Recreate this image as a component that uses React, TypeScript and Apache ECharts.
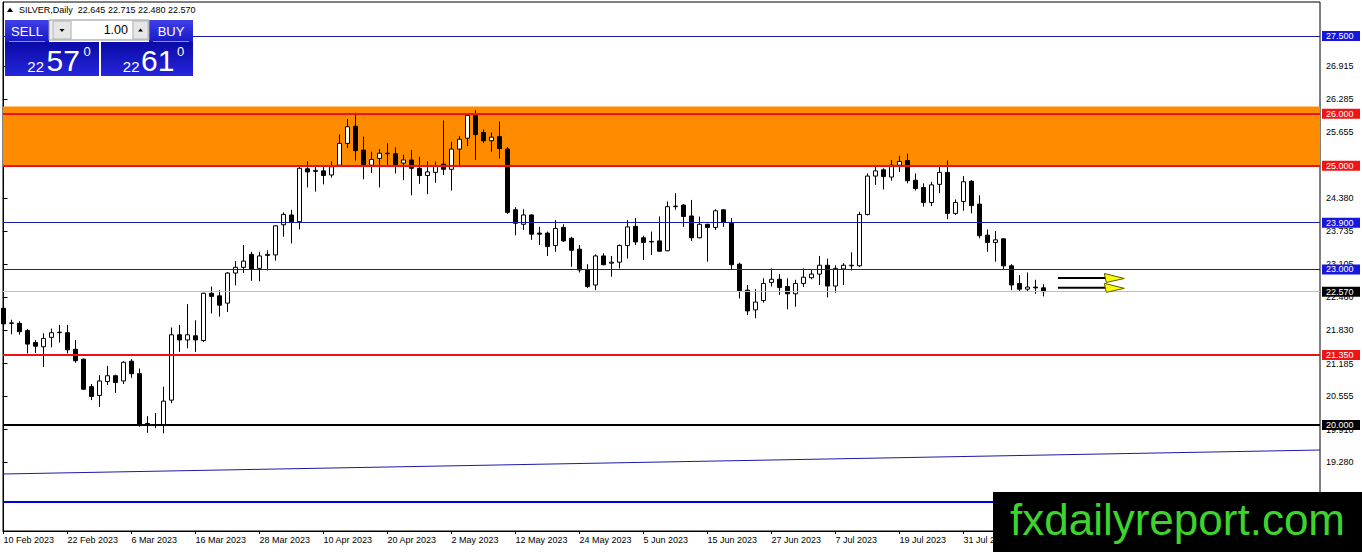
import React, { useEffect, useRef } from "react";
import * as echarts from "echarts";

// ---------- data ----------
const SYMBOL = "SILVER";
const TIMEFRAME = "Daily";
const YEAR = "2023";
const FEB_DAYS = [10, 13, 14, 15, 16, 17, 20, 21, 22, 23, 24, 27, 28];
const MAR_DAYS = [1, 2, 3, 6, 7, 8, 9, 10, 13, 14, 15, 16, 17, 20, 21, 22, 23, 24, 27, 28, 29, 30, 31];
const APR_DAYS = [3, 4, 5, 6, 10, 11, 12, 13, 14, 17, 18, 19, 20, 21, 24, 25, 26, 27, 28];
const MAY_DAYS = [1, 2, 3, 4, 5, 8, 9, 10, 11, 12, 15, 16, 17, 18, 19, 22, 23, 24, 25, 26, 29, 30, 31];
const JUN_DAYS = [1, 2, 5, 6, 7, 8, 9, 12, 13, 14, 15, 16, 19, 20, 21, 22, 23, 26, 27, 28, 29, 30];
const JUL_DAYS = [3, 4, 5, 6, 7, 10, 11, 12, 13, 14, 17, 18, 19, 20, 21, 24, 25, 26, 27, 28, 31];
const AUG_DAYS = [1, 2, 3, 4, 7, 8, 9, 10, 11, 14];

const OPEN = [
  22.25, 21.96, 21.96, 21.82, 21.59, 21.51, 21.69, 21.78, 21.78, 21.46,
  21.27, 20.74, 20.57, 20.84, 20.95, 20.85, 21.23, 20.99, 20.03, 20.0,
  20.0, 20.48, 21.74, 21.64, 21.72, 21.63, 22.54, 22.49, 22.35, 22.93,
  23.04, 23.29, 23.02, 23.27, 23.28, 23.86, 24.05, 23.92, 24.94, 24.89,
  24.9, 24.82, 25.01, 25.43, 25.76, 25.3, 25.01, 25.14, 25.23, 25.23,
  25.05, 25.11, 24.95, 24.81, 24.87, 25.03, 24.93, 25.32, 25.53, 25.97,
  25.64, 25.48, 25.56, 25.32, 24.15, 23.87, 24.05, 23.7, 23.7, 23.46,
  23.81, 23.6, 23.39, 22.99, 22.7, 23.26, 23.12, 23.14, 23.46, 23.83,
  23.61, 23.53, 23.55, 23.36, 24.21, 24.24, 24.03, 23.61, 23.87, 23.81,
  24.15, 23.89, 23.1, 22.6, 22.22, 22.4, 22.75, 22.81, 22.67, 22.53,
  22.73, 22.84, 22.91, 23.08, 22.68, 23.01, 23.07, 23.07, 24.06, 24.8,
  24.92, 24.78, 25.01, 25.1, 24.72, 24.58, 24.29, 24.64, 24.87, 24.08,
  24.31, 24.7, 24.26, 23.66, 23.52, 23.59, 23.07, 22.73, 22.62, 22.66,
  22.645,
];
const HIGH = [
  22.28, 22.03, 22.0, 21.85, 21.64, 21.77, 21.86, 21.93, 21.93, 21.64,
  21.28, 20.79, 20.96, 21.14, 20.97, 21.23, 21.27, 21.09, 20.17, 20.23,
  20.74, 21.88, 21.93, 22.33, 22.02, 22.55, 22.67, 22.6, 22.95, 23.16,
  23.47, 23.34, 23.34, 23.37, 23.85, 24.1, 24.15, 24.97, 25.08, 24.97,
  24.98, 25.08, 25.6, 25.9, 26.02, 25.56, 25.27, 25.32, 25.43, 25.35,
  25.21, 25.3, 25.17, 25.08, 25.08, 25.87, 25.46, 25.57, 26.0, 26.07,
  25.7, 25.64, 25.85, 25.36, 24.2, 24.16, 24.06, 23.82, 23.73, 23.95,
  23.87, 23.63, 23.47, 23.1, 23.29, 23.31, 23.26, 23.48, 23.95, 23.99,
  23.65, 23.73, 24.02, 24.31, 24.47, 24.26, 24.34, 24.02, 23.88, 24.16,
  24.16, 23.99, 23.13, 22.7, 22.62, 22.83, 23.02, 22.91, 22.83, 22.8,
  23.02, 22.99, 23.26, 23.21, 23.08, 23.12, 23.33, 24.11, 24.85, 24.98,
  24.95, 25.11, 25.19, 25.23, 24.85, 24.66, 24.69, 24.97, 25.1, 24.35,
  24.8, 24.72, 24.43, 23.77, 23.74, 23.6, 23.1, 22.89, 22.94, 22.8,
  22.715,
];
const LOW = [
  21.76, 21.75, 21.74, 21.38, 21.39, 21.12, 21.5, 21.59, 21.38, 21.2,
  20.68, 20.48, 20.35, 20.77, 20.62, 20.79, 20.91, 19.97, 19.85, 19.94,
  19.84, 20.42, 21.41, 21.48, 21.41, 21.6, 22.15, 22.09, 22.18, 22.69,
  22.93, 22.78, 22.77, 22.98, 23.17, 23.63, 23.5, 23.77, 24.58, 24.5,
  24.64, 24.77, 24.99, 25.34, 25.1, 24.74, 24.86, 24.58, 25.01, 24.85,
  24.72, 24.43, 24.65, 24.45, 24.67, 24.82, 24.52, 25.01, 25.38, 25.11,
  25.44, 25.27, 25.14, 24.07, 23.66, 23.76, 23.57, 23.47, 23.26, 23.34,
  23.53, 23.05, 22.94, 22.64, 22.6, 23.08, 22.86, 23.02, 23.21, 23.47,
  23.18, 23.28, 23.34, 23.35, 24.15, 23.82, 23.55, 23.6, 23.15, 23.76,
  23.82, 23.0, 22.44, 22.12, 22.06, 22.36, 22.67, 22.51, 22.23, 22.28,
  22.66, 22.81, 22.7, 22.46, 22.55, 22.7, 22.98, 23.05, 24.04, 24.63,
  24.54, 24.71, 24.88, 24.66, 24.52, 24.21, 24.22, 24.47, 23.97, 24.05,
  24.13, 24.08, 23.6, 23.34, 23.15, 23.0, 22.6, 22.57, 22.57, 22.53,
  22.48,
];
const CLOSE = [
  21.95, 21.97, 21.8, 21.56, 21.52, 21.67, 21.78, 21.79, 21.45, 21.24,
  20.69, 20.55, 20.85, 20.95, 20.82, 21.21, 20.99, 20.0, 19.99, 20.01,
  20.46, 21.74, 21.64, 21.74, 21.64, 22.54, 22.48, 22.31, 22.93, 23.04,
  23.16, 23.01, 23.26, 23.29, 23.84, 24.06, 23.92, 24.95, 24.88, 24.91,
  24.81, 24.98, 25.43, 25.75, 25.29, 25.01, 25.12, 25.24, 25.24, 25.01,
  25.11, 24.95, 24.81, 24.88, 24.99, 24.93, 25.32, 25.51, 25.97, 25.6,
  25.48, 25.55, 25.33, 24.1, 23.89, 24.05, 23.68, 23.68, 23.44, 23.79,
  23.55, 23.37, 22.99, 22.67, 23.26, 23.09, 23.14, 23.46, 23.82, 23.53,
  23.52, 23.54, 23.35, 24.21, 24.22, 24.02, 23.61, 23.87, 23.81, 24.13,
  23.91, 23.09, 22.59, 22.2, 22.37, 22.73, 22.81, 22.65, 22.53, 22.73,
  22.85, 22.91, 23.08, 22.68, 23.02, 23.08, 23.08, 24.06, 24.8, 24.9,
  24.79, 25.01, 25.08, 24.71, 24.56, 24.29, 24.63, 24.87, 24.08, 24.29,
  24.69, 24.23, 23.65, 23.52, 23.57, 23.07, 22.7, 22.62, 22.66, 22.645,
  22.57,
];

const X_TICKS = [0, 8, 16, 24, 32, 40, 48, 56, 64, 72, 80, 88, 96, 104, 112, 120];
const X_RANGE = [-0.0625, 164.5625];
const Y_RANGE = [17.957, 28.1555];
const Y_TICKS = [26.915, 26.285, 25.655, 24.38, 23.735, 23.105, 22.46, 21.83, 21.185, 20.555, 19.91, 19.28];

const BLUE_LEVELS = [27.5, 23.9, 23.0];
const RED_LEVELS = [26.0, 25.0, 21.35];
const BLACK_LEVELS = [20.0];
const BID = 22.57;
const ASK = 22.61;
const LOT = "1.00";
const ZONE = [25.0, 26.14];
const TREND_START = [-0.0625, 19.056];
const TREND_END = [164.5625, 19.518];
const LOW_LINE = 18.516;
const ARROW_FROM_X = 131.8;
const ARROW_TO_X = 140.1;
const ARROW_PRICES = [22.835, 22.645];
const WATERMARK = "fxdailyreport.com";

// ---------- styles ----------
const FONT = "'Liberation Sans', Arial, sans-serif";
const STYLE: Record<string, { line: string; width: number; box: string }> = {
  blue: { line: "#1a1aa8", width: 1, box: "#1616dc" },
  red: { line: "#ee1111", width: 2, box: "#f01414" },
  black: { line: "#000000", width: 2, box: "#000000" },
  bid: { line: "#c0c0c0", width: 1, box: "#000000" },
};

const MONTHS: [string, number[]][] = [
  ["Feb", FEB_DAYS],
  ["Mar", MAR_DAYS],
  ["Apr", APR_DAYS],
  ["May", MAY_DAYS],
  ["Jun", JUN_DAYS],
  ["Jul", JUL_DAYS],
  ["Aug", AUG_DAYS],
];
const DATES: string[] = [];
MONTHS.forEach(([m, days]) => days.forEach((d) => DATES.push(`${d} ${m} ${YEAR}`)));

function txt(x: number, y: number, text: string, size: number, fill: string, align = "left", vAlign = "middle", weight = "normal") {
  return {
    type: "text",
    x,
    y,
    z: 120,
    silent: true,
    style: {
      text,
      fill,
      font: `${weight} ${size}px ${FONT}`,
      textAlign: align,
      align,
      textVerticalAlign: vAlign,
      verticalAlign: vAlign,
    },
  };
}

export default function App() {
  const ref = useRef<HTMLDivElement>(null);

  useEffect(() => {
    const el = ref.current!;
    const chart = echarts.init(el, null, { renderer: "svg" });

    const candles = OPEN.map((o, i) => [i, o, CLOSE[i], LOW[i], HIGH[i]]);
    const levels: [number, string][] = [
      ...BLUE_LEVELS.map((v) => [v, "blue"] as [number, string]),
      ...RED_LEVELS.map((v) => [v, "red"] as [number, string]),
      ...BLACK_LEVELS.map((v) => [v, "black"] as [number, string]),
      [BID, "bid"],
    ];

    chart.setOption({
      animation: false,
      backgroundColor: "#ffffff",
      grid: {
        left: 3,
        top: 2,
        width: 1317,
        height: 529,
        show: true,
        borderColor: "#000",
        borderWidth: 1,
        backgroundColor: "#ffffff",
      },
      xAxis: {
        type: "value",
        min: X_RANGE[0],
        max: X_RANGE[1],
        splitLine: { show: false },
        axisLine: { show: true, lineStyle: { color: "#000", width: 1 } },
        axisTick: { show: true, customValues: X_TICKS, length: 3, lineStyle: { color: "#000" } },
        axisLabel: {
          customValues: X_TICKS,
          formatter: (v: number) => DATES[Math.round(v)] ?? "",
          align: "left",
          margin: 4,
          color: "#000",
          fontFamily: FONT,
          fontSize: 9,
        },
      },
      yAxis: {
        type: "value",
        position: "right",
        min: Y_RANGE[0],
        max: Y_RANGE[1],
        splitLine: { show: false },
        axisLine: { show: true, lineStyle: { color: "#000", width: 1 } },
        axisTick: { show: true, customValues: Y_TICKS, length: 4, lineStyle: { color: "#000" } },
        axisLabel: {
          customValues: Y_TICKS,
          formatter: (v: number) => v.toFixed(3),
          margin: 6,
          color: "#000",
          fontFamily: FONT,
          fontSize: 9,
        },
      },
      series: [
        {
          type: "candlestick",
          data: candles,
          barWidth: 5,
          clip: true,
          silent: true,
          itemStyle: {
            color: "#ffffff",
            color0: "#000000",
            borderColor: "#000000",
            borderColor0: "#000000",
            borderWidth: 1,
          },
          markArea: {
            silent: true,
            label: { show: false },
            itemStyle: { color: "#ff8c00", opacity: 1, borderWidth: 0 },
            data: [[{ yAxis: ZONE[0] }, { yAxis: ZONE[1] }]],
          },
          markLine: {
            silent: true,
            symbol: ["none", "none"],
            label: { show: false },
            lineStyle: { type: "solid" },
            data: [
              ...levels.map(([v, k]) => ({
                yAxis: v,
                lineStyle: { color: STYLE[k].line, width: STYLE[k].width, type: "solid" },
              })),
              { yAxis: LOW_LINE, lineStyle: { color: "#0000dd", width: 2, type: "solid" } },
              [
                { coord: TREND_START, lineStyle: { color: "#1a1aa8", width: 1, type: "solid" } },
                { coord: TREND_END },
              ],
            ],
          },
        },
      ],
    });

    const px = (x: number, y: number) => chart.convertToPixel({ gridIndex: 0 }, [x, y]) as number[];
    const right = px(X_RANGE[1], 0)[0];
    const g: any[] = [];

    // price level label boxes on the axis
    levels.forEach(([v, k]) => {
      const y = px(0, v)[1];
      g.push({
        type: "rect",
        z: 110,
        silent: true,
        shape: { x: right + 2, y: y - 5, width: 38, height: 10 },
        style: { fill: STYLE[k].box },
      });
      g.push(txt(right + 6, y, v.toFixed(3), 9, "#ffffff"));
    });

    // arrows
    ARROW_PRICES.forEach((p) => {
      const [x0, y] = px(ARROW_FROM_X, p);
      const [x1] = px(ARROW_TO_X, p);
      g.push({
        type: "line",
        z: 110,
        silent: true,
        shape: { x1: x0, y1: y, x2: x1 - 18, y2: y },
        style: { stroke: "#000", lineWidth: 2 },
      });
      g.push({
        type: "polygon",
        z: 111,
        silent: true,
        shape: { points: [[x1 - 20, y - 4.5], [x1, y + 0.5], [x1 - 18, y + 4.5]] },
        style: { fill: "#ffff00", stroke: "#5a5a00", lineWidth: 1 },
      });
    });

    // title
    g.push({
      type: "polygon",
      z: 120,
      silent: true,
      shape: { points: [[7, 12], [10, 7.5], [13, 12]] },
      style: { fill: "#000" },
    });
    const last = OPEN.length - 1;
    g.push(
      txt(
        19,
        10,
        `${SYMBOL},${TIMEFRAME}  ${OPEN[last].toFixed(3)} ${HIGH[last].toFixed(3)} ${LOW[last].toFixed(3)} ${CLOSE[last].toFixed(3)}`,
        9,
        "#000"
      )
    );

    // trade panel
    const btnGrad = () =>
      new echarts.graphic.LinearGradient(0, 0, 0, 1, [
        { offset: 0, color: "#4040ea" },
        { offset: 1, color: "#1818c4" },
      ]);
    const boxGrad = () =>
      new echarts.graphic.LinearGradient(0, 0, 0, 1, [
        { offset: 0, color: "#0a0aa6" },
        { offset: 1, color: "#2626dc" },
      ]);
    g.push({ type: "rect", z: 115, silent: true, shape: { x: 5, y: 20, width: 44, height: 22 }, style: { fill: btnGrad() } });
    g.push({ type: "rect", z: 115, silent: true, shape: { x: 149, y: 20, width: 44, height: 22 }, style: { fill: btnGrad() } });
    g.push({ type: "rect", z: 115, silent: true, shape: { x: 49, y: 20, width: 100, height: 20 }, style: { fill: "#f0f0f0", stroke: "#9a9a9a", lineWidth: 1 } });
    g.push({ type: "rect", z: 116, silent: true, shape: { x: 53, y: 21, width: 18, height: 18 }, style: { fill: "#e6e6e6", stroke: "#b4b4b4", lineWidth: 1 } });
    g.push({ type: "rect", z: 116, silent: true, shape: { x: 72, y: 21, width: 60, height: 18 }, style: { fill: "#ffffff" } });
    g.push({ type: "rect", z: 116, silent: true, shape: { x: 133, y: 21, width: 15, height: 18 }, style: { fill: "#e6e6e6", stroke: "#b4b4b4", lineWidth: 1 } });
    g.push({ type: "polygon", z: 117, silent: true, shape: { points: [[59.5, 29], [64.5, 29], [62, 32]] }, style: { fill: "#000" } });
    g.push({ type: "polygon", z: 117, silent: true, shape: { points: [[138, 31.5], [143, 31.5], [140.5, 28.5]] }, style: { fill: "#000" } });
    g.push(txt(27, 31, "SELL", 13, "#ffffff", "center"));
    g.push(txt(171, 31, "BUY", 13, "#ffffff", "center"));
    g.push(txt(128, 30, LOT, 12.5, "#000", "right"));
    g.push({ type: "rect", z: 115, silent: true, shape: { x: 5, y: 42, width: 94, height: 34 }, style: { fill: boxGrad() } });
    g.push({ type: "rect", z: 115, silent: true, shape: { x: 101, y: 42, width: 92, height: 34 }, style: { fill: boxGrad() } });
    g.push({ type: "line", z: 116, silent: true, shape: { x1: 9, y1: 41.5, x2: 45, y2: 41.5 }, style: { stroke: "#8a8aff", lineWidth: 1 } });
    g.push({ type: "line", z: 116, silent: true, shape: { x1: 153, y1: 41.5, x2: 189, y2: 41.5 }, style: { stroke: "#8a8aff", lineWidth: 1 } });
    const quote = (p: number) => {
      const s = p.toFixed(3);
      return [s.slice(0, 2), s.slice(3, 5), s.slice(5)];
    };
    const [b1, b2, b3] = quote(BID);
    const [a1, a2, a3] = quote(ASK);
    g.push(txt(44, 66.5, b1, 15, "#ffffff", "right"));
    g.push(txt(46.5, 60.5, b2, 30, "#ffffff", "left"));
    g.push(txt(83.5, 51, b3, 13, "#ffffff", "left"));
    g.push(txt(139.5, 66.5, a1, 15, "#ffffff", "right"));
    g.push(txt(141, 60.5, a2, 30, "#ffffff", "left"));
    g.push(txt(177, 51, a3, 13, "#ffffff", "left"));

    // watermark
    g.push({ type: "rect", z: 130, silent: true, shape: { x: 993, y: 492, width: 369, height: 60 }, style: { fill: "#000000" } });
    g.push({ ...txt(1010, 519, WATERMARK, 44, "#3dd42b"), z: 131 });

    chart.setOption({ graphic: g });

    return () => chart.dispose();
  }, []);

  return (
    <div
      ref={ref}
      style={{ position: "absolute", left: 0, top: 0, width: 1362, height: 552, background: "#fff" }}
    />
  );
}
